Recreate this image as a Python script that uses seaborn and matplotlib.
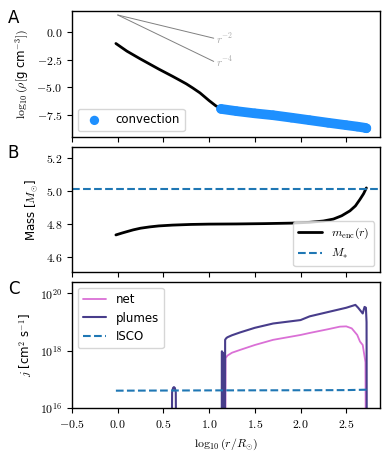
import numpy as np
import pandas as pd
import matplotlib
matplotlib.use("Agg")
import matplotlib.pyplot as plt
from matplotlib.ticker import FuncFormatter, FixedLocator
import seaborn as sns

# panel A: density profile
rho_x = [-0.02, 0.1, 0.24, 0.45, 0.6, 0.68, 0.75, 0.82, 0.9, 1.0, 1.07, 1.13]
rho_y = [-1.03, -1.72, -2.39, -3.35, -4.0, -4.36, -4.68, -5.05, -5.5, -6.2, -6.65, -6.95]
conv_x = [1.13, 1.3, 1.5, 1.7, 1.9, 2.1, 2.3, 2.5, 2.62, 2.7, 2.72]
conv_y = [-6.95, -7.15, -7.35, -7.52, -7.74, -7.97, -8.2, -8.42, -8.55, -8.65, -8.7]
guide_x = [0.0, 1.05]
guide_r2 = [1.55, -0.55]
guide_r4 = [1.55, -2.65]

# panel B: enclosed mass
mass_x = [-0.02, 0.05, 0.1, 0.17, 0.25, 0.35, 0.45, 0.6, 0.8, 1.0, 1.3, 1.6, 1.9,
          2.1, 2.25, 2.36, 2.45, 2.54, 2.6, 2.65, 2.69, 2.72]
mass_y = [4.733, 4.745, 4.753, 4.764, 4.774, 4.782, 4.788, 4.793, 4.797, 4.799, 4.80,
          4.802, 4.805, 4.81, 4.818, 4.83, 4.85, 4.88, 4.91, 4.95, 4.985, 5.02]
m_star = 5.016

# panel C: specific angular momentum (log10 j)
plume_x = [-0.02, 0.58, 0.595, 0.605, 0.615, 0.625, 0.635, 0.65, 1.135, 1.14, 1.143,
           1.146, 1.149, 1.152, 1.155, 1.158, 1.161, 1.164, 1.167, 1.17, 1.175, 1.185,
           1.2, 1.25, 1.34, 1.5, 1.7, 2.0, 2.1, 2.3, 2.5, 2.6, 2.63, 2.65, 2.68, 2.7,
           2.715, 2.722, 2.727]
plume_y = [10, 10, 16.55, 16.7, 16.73, 16.7, 16.55, 10, 10, 17.98, 10,
           17.95, 10, 17.9, 10, 17.85, 10, 17.8, 10, 10, 18.38, 18.43,
           18.47, 18.54, 18.64, 18.8, 18.95, 19.07, 19.2, 19.35, 19.5, 19.6, 19.5,
           19.42, 19.3, 19.53, 19.5, 19.0, 10]
net_x = [1.175, 1.18, 1.2, 1.25, 1.34, 1.5, 1.7, 2.0, 2.1, 2.3, 2.43, 2.5, 2.56, 2.62,
         2.65, 2.68, 2.695, 2.71, 2.72]
net_y = [10, 17.74, 17.83, 17.93, 18.03, 18.2, 18.38, 18.55, 18.62, 18.75, 18.84, 18.85,
         18.78, 18.55, 18.32, 18.2, 17.9, 17.6, 10]
isco_x = [-0.02, 1.0, 2.0, 2.5, 2.73]
isco_y = [16.605, 16.615, 16.62, 16.625, 16.64]

sns.set_style("ticks")
plt.rcParams['font.family'] = ['DejaVu Sans']
plt.rcParams['mathtext.fontset'] = 'cm'
plt.rcParams['font.size'] = 8.5
plt.rcParams['axes.linewidth'] = 1.0
plt.rcParams['axes.edgecolor'] = 'black'
plt.rcParams['axes.labelcolor'] = 'black'
plt.rcParams['text.color'] = 'black'
plt.rcParams['xtick.color'] = 'black'
plt.rcParams['ytick.color'] = 'black'

fig = plt.figure(figsize=(3.88, 4.54), dpi=100)
axA = fig.add_axes([0.1856, 0.698, 0.794, 0.2775])
axB = fig.add_axes([0.1856, 0.401, 0.794, 0.2753], sharex=axA)
axC = fig.add_axes([0.1856, 0.1013, 0.794, 0.2775], sharex=axA)

mathfmt = FuncFormatter(lambda v, p: f"${v:.1f}$")

# A
sns.lineplot(x=rho_x, y=rho_y, ax=axA, color='black', lw=2, sort=False)
sns.lineplot(x=conv_x, y=conv_y, ax=axA, color='dodgerblue', lw=7, sort=False,
             solid_capstyle='round')
sns.scatterplot(x=conv_x, y=conv_y, ax=axA, color='dodgerblue', s=45, edgecolor='none',
                label='convection', zorder=3)
axA.plot(guide_x, guide_r2, color='gray', lw=0.7)
axA.plot(guide_x, guide_r4, color='gray', lw=0.7)
axA.text(1.07, guide_r2[1], r"$r^{-2}$", color='darkgray', fontsize=8, va='center')
axA.text(1.07, guide_r4[1], r"$r^{-4}$", color='darkgray', fontsize=8, va='center')
axA.set_ylim(-9.5, 1.9)
axA.yaxis.set_major_locator(FixedLocator([-7.5, -5.0, -2.5, 0.0]))
axA.yaxis.set_major_formatter(mathfmt)
axA.set_ylabel(r"$\log_{10}(\rho[$g cm$^{-3}])$")
axA.legend(loc='lower left', fontsize=8.5)
axA.tick_params(labelbottom=False)

# B
sns.lineplot(x=mass_x, y=mass_y, ax=axB, color='black', lw=2, sort=False,
             label=r"$m_{\rm enc}(r)$")
axB.axhline(m_star, color='#1f77b4', ls='--', lw=1.5, label=r"$M_{*}$")
axB.set_ylim(4.507, 5.27)
axB.yaxis.set_major_locator(FixedLocator([4.6, 4.8, 5.0, 5.2]))
axB.yaxis.set_major_formatter(mathfmt)
axB.set_ylabel(r"Mass [$M_{\odot}$]")
axB.legend(loc='lower right', fontsize=8.5)
axB.tick_params(labelbottom=False)

# C
sns.lineplot(x=net_x, y=np.power(10.0, net_y), ax=axC, color='orchid', lw=1.3,
             sort=False, label='net')
sns.lineplot(x=plume_x, y=np.power(10.0, plume_y), ax=axC, color='darkslateblue', lw=1.5,
             sort=False, label='plumes')
sns.lineplot(x=isco_x, y=np.power(10.0, isco_y), ax=axC, color='#1f77b4', lw=1.5,
             ls='--', sort=False, label='ISCO')
axC.set_yscale('log')
axC.set_ylim(1e16, 2.5e20)
axC.yaxis.set_major_locator(FixedLocator([1e16, 1e18, 1e20]))
axC.yaxis.set_minor_locator(FixedLocator([]))
axC.yaxis.set_major_formatter(FuncFormatter(lambda v, p: f"$10^{{{int(round(np.log10(v)))}}}$"))
axC.set_ylabel(r"$j$ [cm$^2$ s$^{-1}$]")
axC.legend(loc='upper left', fontsize=8.5)
axC.set_xlim(-0.5, 2.87)
axC.xaxis.set_major_locator(FixedLocator([-0.5, 0.0, 0.5, 1.0, 1.5, 2.0, 2.5]))
axC.xaxis.set_major_formatter(mathfmt)
axC.set_xlabel(r"$\log_{10}(r/R_{\odot})$")

for ax, letter in zip([axA, axB, axC], ['A', 'B', 'C']):
    ax.text(-0.19, 1.02, letter, transform=ax.transAxes, fontsize=12, va='top', ha='center')

fig.savefig("out.png", dpi=100)
